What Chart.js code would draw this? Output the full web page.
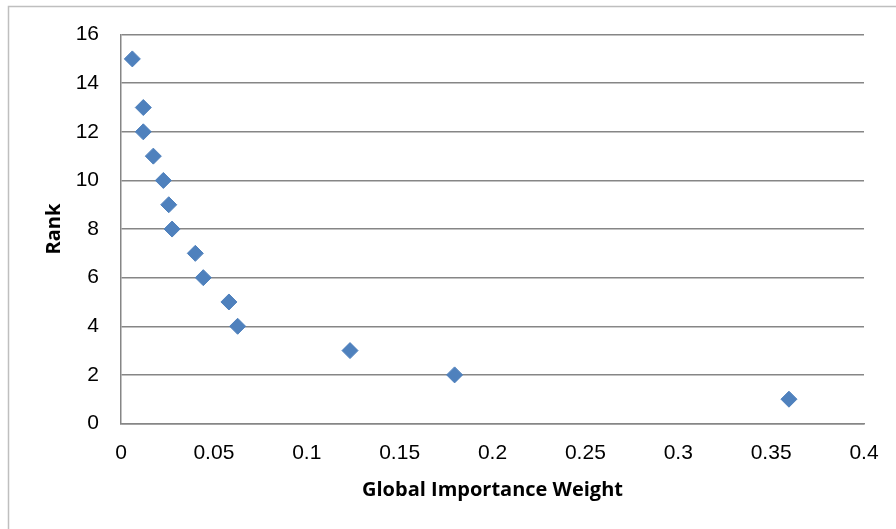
<!DOCTYPE html>
<html>
<head>
<meta charset="utf-8">
<script src="https://cdn.jsdelivr.net/npm/chart.js@4.4.1/dist/chart.umd.min.js"></script>
<style>
html,body{margin:0;padding:0;background:#fff;}
#wrap{position:relative;width:896px;height:529px;}
</style>
</head>
<body>
<div id="wrap"><canvas id="c" width="896" height="529"></canvas></div>
<script>
const weights = [0.3596, 0.1796, 0.1233, 0.0628, 0.0581, 0.0443, 0.0400, 0.0275, 0.0257, 0.0228, 0.0174, 0.0120, 0.0120, 0.0061];
const ranks   = [1, 2, 3, 4, 5, 6, 7, 8, 9, 10, 11, 12, 13, 15];
const xTitle = 'Global Importance Weight';
const yTitle = 'Rank';

const points = weights.map((w, i) => ({x: w, y: ranks[i]}));

const framePlugin = {
  id: 'frame',
  beforeDraw(chart) {
    const ctx = chart.ctx;
    ctx.save();
    ctx.fillStyle = '#fff';
    ctx.fillRect(0, 0, chart.width, chart.height);
    ctx.strokeStyle = '#bfbfbf';
    ctx.lineWidth = 1.5;
    ctx.beginPath();
    ctx.moveTo(8.5, chart.height);
    ctx.lineTo(8.5, 6.5);
    ctx.lineTo(chart.width, 6.5);
    ctx.stroke();
    ctx.restore();
  }
};

new Chart(document.getElementById('c'), {
  type: 'scatter',
  data: {
    datasets: [{
      data: points,
      backgroundColor: '#4F81BD',
      borderColor: '#4F81BD',
      borderWidth: 1,
      pointStyle: 'rectRot',
      pointRadius: 8,
      pointHoverRadius: 8
    }]
  },
  options: {
    responsive: false,
    animation: false,
    devicePixelRatio: 1,
    layout: { padding: { top: 33, right: 32, bottom: 0, left: 0 } },
    plugins: { legend: { display: false }, tooltip: { enabled: false } },
    scales: {
      x: {
        type: 'linear',
        min: 0, max: 0.4,
        afterFit(s) { s.height = 105.5; },
        ticks: {
          stepSize: 0.05,
          padding: 17,
          color: '#000',
          font: { family: '"Liberation Sans", Arial, sans-serif', size: 21 },
          callback: v => String(Math.round(v * 100) / 100)
        },
        grid: { display: false, drawTicks: false },
        border: { display: true, color: '#868686', width: 1.5 },
        title: {
          display: true,
          text: xTitle,
          color: '#000',
          font: { family: '"Open Sans", sans-serif', size: 20, weight: 'bold' },
          padding: { top: 0, bottom: 26.5 }
        }
      },
      y: {
        min: 0, max: 16,
        afterFit(s) { s.width = 121; },
        ticks: {
          stepSize: 2,
          padding: 22,
          color: '#000',
          font: { family: '"Liberation Sans", Arial, sans-serif', size: 21 }
        },
        grid: { color: '#868686', lineWidth: 1.5, drawTicks: false },
        border: { display: true, color: '#868686', width: 1.5 },
        title: {
          display: true,
          text: yTitle,
          color: '#000',
          font: { family: '"Open Sans", sans-serif', size: 20, weight: 'bold' },
          padding: { top: 42, bottom: 0 }
        }
      }
    }
  },
  plugins: [framePlugin]
});
</script>
</body>
</html>
